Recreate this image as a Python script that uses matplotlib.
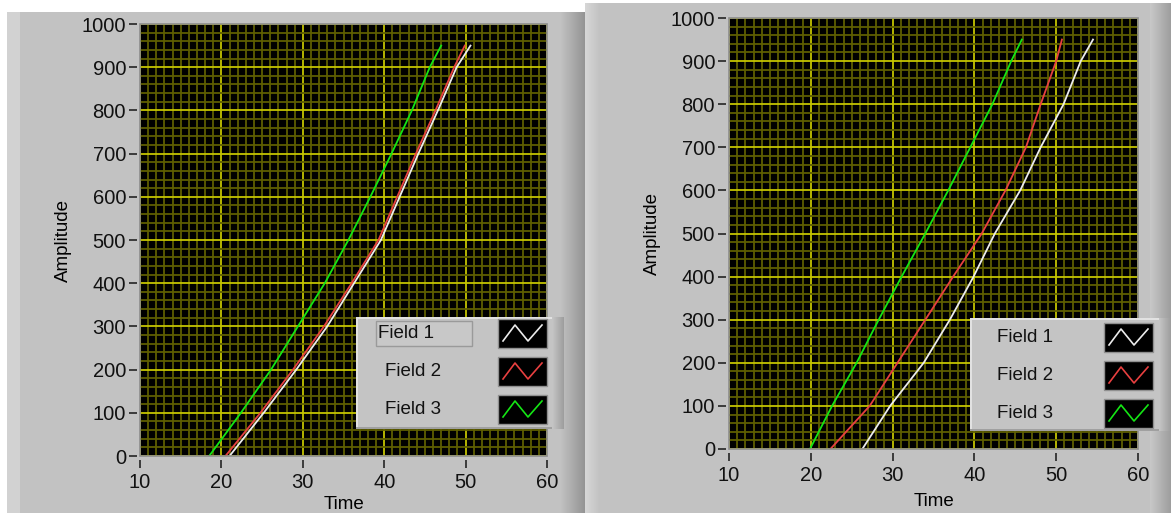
import numpy as np
import matplotlib
matplotlib.use('Agg')
import matplotlib.pyplot as plt
from matplotlib.patches import Rectangle
from matplotlib.lines import Line2D

plt.rcParams['font.family'] = ['Liberation Sans', 'DejaVu Sans']

# data (amplitude levels, time for each field)
amp = [0, 100, 200, 300, 400, 500, 600, 700, 800, 900, 950]

left_field1 = [21.0, 25.2, 29.2, 33.0, 36.3, 39.6, 41.9, 44.2, 46.6, 48.9, 50.6]
left_field2 = [20.5, 24.8, 28.8, 32.6, 36.0, 39.3, 41.6, 43.9, 46.3, 48.6, 49.9]
left_field3 = [18.5, 22.4, 26.1, 29.4, 32.7, 35.6, 38.3, 40.9, 43.4, 45.6, 47.0]

right_field1 = [26.3, 29.7, 33.8, 37.0, 39.9, 42.5, 45.6, 48.1, 50.9, 53.0, 54.5]
right_field2 = [22.4, 27.2, 30.6, 34.0, 37.4, 40.9, 43.8, 46.3, 48.1, 50.0, 50.7]
right_field3 = [19.9, 22.6, 25.6, 28.3, 31.1, 34.0, 36.8, 39.5, 42.2, 44.5, 45.8]

field_names = ['Field 1', 'Field 2', 'Field 3']
field_colors = ['#ececec', '#e84040', '#14e614']

x_ticks = [10, 20, 30, 40, 50, 60]
y_ticks = list(range(0, 1001, 100))

W, H = 1171, 513
fig = plt.figure(figsize=(W / 100, H / 100), dpi=100)
fig.patch.set_facecolor('white')


def fx(x):
    return x / W


def fy(y):
    return 1 - y / H


def frect(x0, y0, x1, y1, **kw):
    # rectangle in pixel coords (y from top)
    r = Rectangle((fx(x0), fy(y1)), fx(x1) - fx(x0), fy(y0) - fy(y1),
                  transform=fig.transFigure, **kw)
    fig.add_artist(r)
    return r


def gradient(x0, x1, y0, y1, c0, c1, z):
    n = int(x1 - x0)
    for i in range(n):
        t = i / max(n - 1, 1)
        c = tuple((1 - t) * a + t * b for a, b in zip(c0, c1))
        frect(x0 + i, y0, x0 + i + 1, y1, facecolor=c, edgecolor='none', zorder=z)


# panels
frect(7, 12, 585, 513, facecolor='#c2c2c2', edgecolor='none', zorder=-5)
frect(7, 12, 20, 513, facecolor='#d2d2d2', edgecolor='none', zorder=-4)
gradient(560, 585, 12, 513, (0.76, 0.76, 0.76), (0.58, 0.58, 0.58), -4)
frect(585, 3, 1171, 513, facecolor='#c2c2c2', edgecolor='none', zorder=-3)
gradient(585, 600, 3, 513, (0.84, 0.84, 0.84), (0.76, 0.76, 0.76), -2)
gradient(1150, 1171, 3, 513, (0.78, 0.78, 0.78), (0.62, 0.62, 0.62), -2)


def graph(rect, series, xpad):
    ax = fig.add_axes(rect)
    ax.set_facecolor('black')
    ax.set_xlim(10, 60)
    ax.set_ylim(0, 1000)
    ax.set_xticks(x_ticks)
    ax.set_yticks(y_ticks)
    ax.set_xticks(np.arange(10, 61, 1), minor=True)
    ax.set_yticks(np.arange(0, 1001, 20), minor=True)
    ax.grid(which='minor', color='#5e5e00', lw=1.3)
    ax.grid(which='major', color='#c4c400', lw=1.3)
    ax.set_axisbelow(True)
    for s in ['top', 'right']:
        ax.spines[s].set_visible(False)
    ax.spines['left'].set_position(('outward', 2))
    ax.spines['bottom'].set_position(('outward', 3))
    ax.spines['left'].set_visible(False)
    ax.spines['bottom'].set_visible(False)
    ax.tick_params(which='minor', length=0)
    ax.tick_params(axis='y', which='major', length=6, width=1.3, color='#303030',
                   labelsize=14.5, pad=2, labelcolor='#111111')
    ax.tick_params(axis='x', which='major', length=6, width=1.3, color='#303030',
                   labelsize=14.5, pad=3, labelcolor='#111111')
    ax.add_patch(Rectangle((0, 0), 1, 1, transform=ax.transAxes, fill=False,
                           edgecolor='#8c8c8c', lw=1.2, zorder=5, clip_on=False))
    for xs, c in zip(series, field_colors):
        ax.plot(xs, amp, color=c, lw=1.3, zorder=4)
    ax.set_ylabel('Amplitude', fontsize=13.5, labelpad=7)
    ax.set_xlabel('Time', fontsize=13.5, labelpad=xpad)
    return ax


axl = graph([fx(140), fy(456), fx(547) - fx(140), fy(24) - fy(456)],
            [left_field1, left_field2, left_field3], 3)
axr = graph([fx(729), fy(449), fx(1138) - fx(729), fy(18) - fy(449)],
            [right_field1, right_field2, right_field3], 6)


def legend(x0, y0, x1, y1, text_x, rows, sw_x, boxed_first):
    frect(x0, y0, x1, y1, facecolor='#c4c4c4', edgecolor='none', zorder=6)
    frect(x0, y0, x1, y0 + 2, facecolor='#e2e2e2', edgecolor='none', zorder=7)
    frect(x0, y0, x0 + 2, y1, facecolor='#e2e2e2', edgecolor='none', zorder=7)
    frect(x0, y1 - 2, x1, y1, facecolor='#a0a0a0', edgecolor='none', zorder=7)
    gradient(x1 - 12, x1, y0, y1, (0.77, 0.77, 0.77), (0.62, 0.62, 0.62), 7)
    for i, (name, c) in enumerate(zip(field_names, field_colors)):
        top, bot = rows[i]
        cy = (top + bot) / 2
        if boxed_first and i == 0:
            frect(text_x - 2, top + 2, text_x + 94, bot - 2, facecolor='#c8c8c8',
                  edgecolor='#9a9a9a', lw=1, zorder=8)
            tx = text_x
        else:
            tx = text_x + (7 if boxed_first else 0)
        fig.text(fx(tx), fy(cy), name, fontsize=13.5, va='center', ha='left',
                 color='#111111', zorder=9)
        frect(sw_x, top, sw_x + 49, bot, facecolor='black', edgecolor='#909090',
              lw=1, zorder=8)
        zx = [sw_x + 5, sw_x + 17, sw_x + 30, sw_x + 44]
        zy = [bot - 7, top + 6, bot - 7, top + 6]
        fig.add_artist(Line2D([fx(v) for v in zx], [fy(v) for v in zy],
                              transform=fig.transFigure, color=c, lw=1.2, zorder=9))


legend(356, 317, 564, 429, 378, [(319, 348), (357, 386), (395, 424)], 498, True)
legend(970, 318, 1171, 431, 997, [(323, 352), (361, 390), (399, 428)], 1104, False)

fig.savefig('out.png', dpi=100, facecolor=fig.get_facecolor())
